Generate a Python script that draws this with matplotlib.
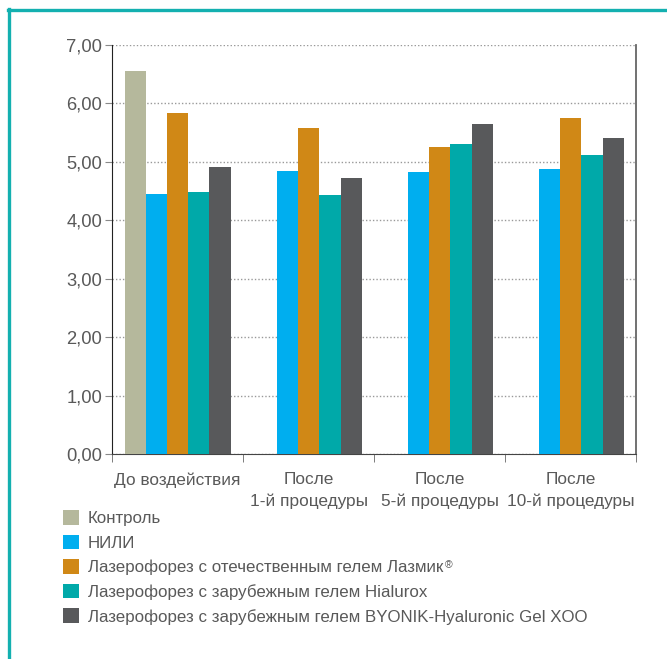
import matplotlib.pyplot as plt
import numpy as np
from matplotlib.lines import Line2D
from matplotlib import font_manager

names = {f.name for f in font_manager.fontManager.ttflist}
fam = 'Liberation Sans Narrow' if 'Liberation Sans Narrow' in names else 'Liberation Sans'
plt.rcParams['font.family'] = [fam, 'DejaVu Sans']

# data
categories = ['До воздействия', 'После\n1-й процедуры', 'После\n5-й процедуры', 'После\n10-й процедуры']
series = ['Контроль', 'НИЛИ', 'Лазерофорез с отечественным гелем Лазмик',
          'Лазерофорез с зарубежным гелем Hialurox',
          'Лазерофорез с зарубежным гелем BYONIK-Hyaluronic Gel XOO']
kontrol = [6.56, np.nan, np.nan, np.nan]
nili = [4.44, 4.84, 4.82, 4.87]
lazmik = [5.83, 5.57, 5.25, 5.74]
hialurox = [4.48, 4.43, 5.30, 5.11]
byonik = [4.91, 4.72, 5.64, 5.40]
colors = ['#B5B89C', '#00AEEF', '#D08816', '#00A9A9', '#58595B']

fig = plt.figure(figsize=(6.67, 6.59), dpi=100)
ax = fig.add_axes([0.168, 0.311, 0.786, 0.621])

txt = '#595959'
x = np.arange(len(categories))
w = 0.162
vals = [kontrol, nili, lazmik, hialurox, byonik]
handles = []
for i, v in enumerate(vals):
    b = ax.bar(x + (i - 2) * w, v, w, color=colors[i], label=series[i], zorder=3)
    handles.append(b)

ax.set_xlim(-0.5, 3.5)
ax.set_ylim(0, 7)
ax.set_yticks(np.arange(0, 8, 1))
ax.set_yticklabels([f'{t:.2f}'.replace('.', ',') for t in range(8)], fontsize=13.2, color=txt)
ax.yaxis.grid(True, linestyle=(0, (1, 1.5)), color='#999999', linewidth=1, zorder=0)
ax.tick_params(axis='y', length=5, color='#888888', pad=2)

ax.set_xticks(x)
ax.set_xticklabels(categories, fontsize=12.4, color=txt, linespacing=1.55)
ax.tick_params(axis='x', length=0, pad=13)
ax.set_xticks(np.arange(-0.5, 4.0, 1), minor=True)
ax.tick_params(axis='x', which='minor', length=6, color='#666666', direction='out')

ax.spines['top'].set_visible(False)
ax.spines['left'].set_color('#222222')
ax.spines['right'].set_color('#666666')
ax.spines['right'].set_linewidth(1.3)
ax.spines['bottom'].set_color('#444444')

leg = fig.legend(handles=handles, loc='upper left', bbox_to_anchor=(0.094, 0.226),
                 frameon=False, fontsize=12.2, handlelength=0.95, handleheight=0.95,
                 handletextpad=0.55, labelspacing=0.5, borderaxespad=0, borderpad=0,
                 labelcolor=txt)

# small registered sign after "Лазмик"
fig.canvas.draw()
bb = leg.get_texts()[2].get_window_extent()
fx, fy = fig.transFigure.inverted().transform((bb.x1 + 1, bb.y1))
fig.text(fx, fy, '®', fontsize=7.5, color=txt, va='top', ha='left')

# teal frame around the figure
fig.add_artist(Line2D([0.012, 1.0], [0.985, 0.985], color='#13B0B0', linewidth=2.4, transform=fig.transFigure))
fig.add_artist(Line2D([0.014, 0.014], [0.0, 0.986], color='#13B0B0', linewidth=2.4, transform=fig.transFigure))

fig.savefig('out.png', dpi=100)
